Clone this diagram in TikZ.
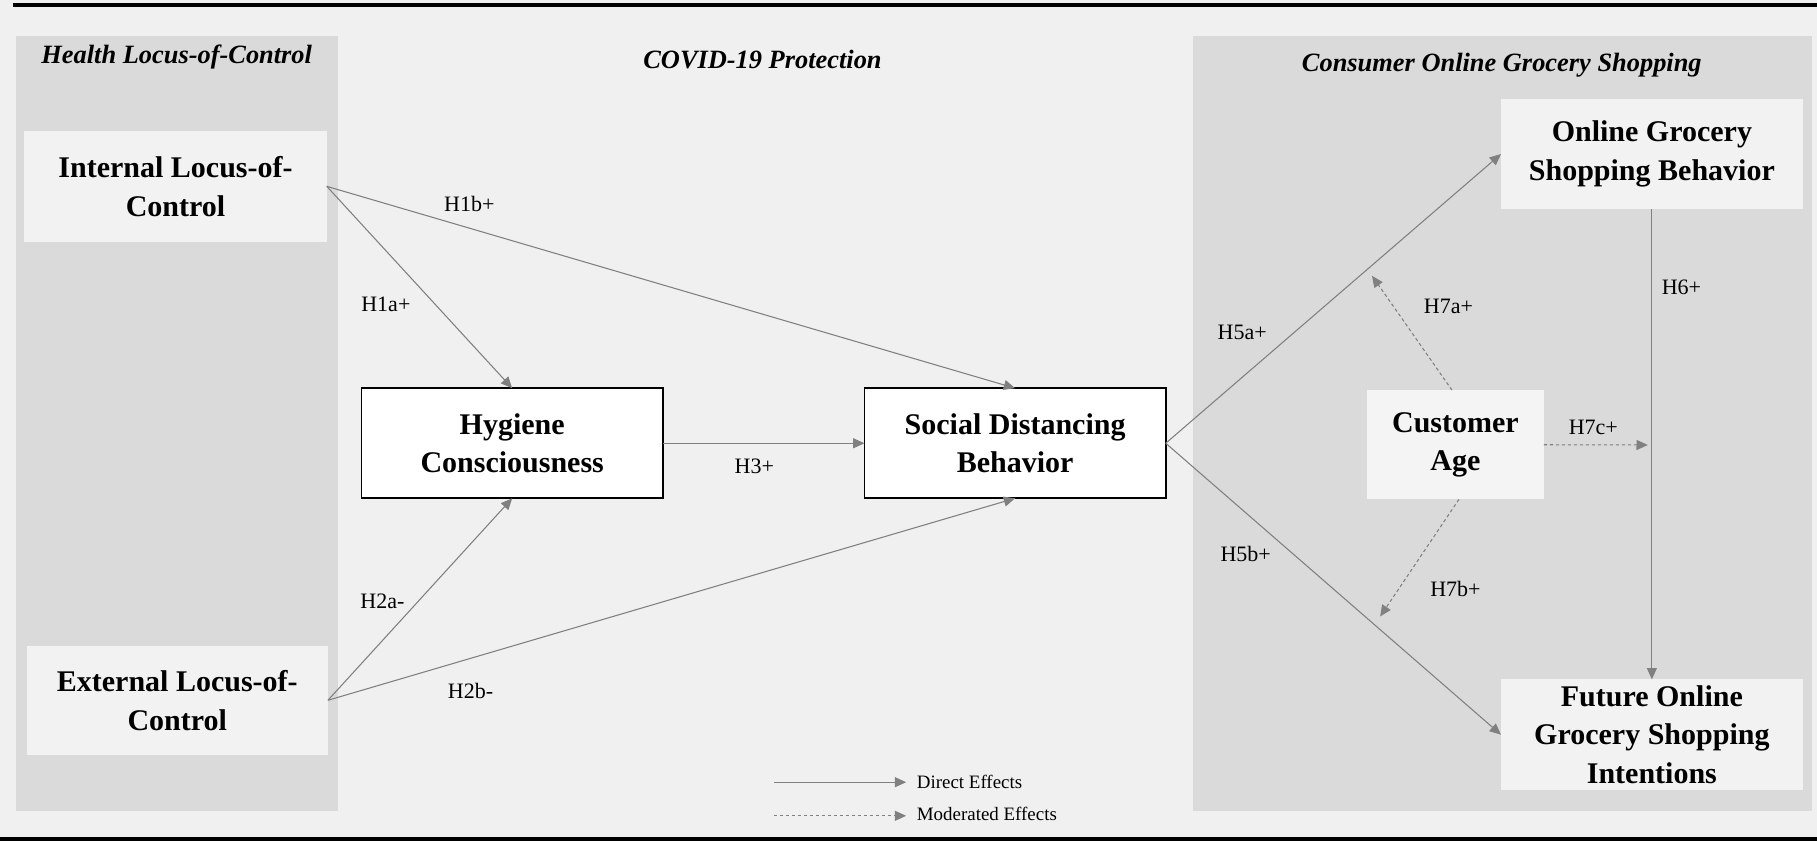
\documentclass[tikz,border=0pt]{standalone}
\usepackage{fontspec}
\setmainfont{Liberation Serif}
\usetikzlibrary{arrows.meta}
\newdimen\uu \uu=0.8691pt
\definecolor{bgc}{HTML}{F0F0F0}
\definecolor{panelc}{HTML}{DADADA}
\definecolor{boxc}{HTML}{F2F2F2}
\definecolor{agec}{HTML}{F4F4F4}
\definecolor{arrc}{HTML}{808080}
\tikzset{
  panel/.style={fill=panelc, draw=none},
  lbox/.style={fill=boxc, draw=none, inner sep=0pt, outer sep=0pt, align=center,
    font=\fontsize{22.5}{29}\selectfont\bfseries},
  wbox/.style={fill=white, draw=black, line width=1.3pt, inner sep=0pt, outer sep=0pt, align=center,
    font=\fontsize{22.5}{29}\selectfont\bfseries},
  ttl/.style={font=\fontsize{19.8}{23}\selectfont\bfseries\itshape, inner sep=0pt},
  hlab/.style={font=\fontsize{16.5}{19}\selectfont, inner sep=0pt},
  leglab/.style={font=\fontsize{14.2}{17}\selectfont, inner sep=0pt, anchor=west},
  direct/.style={draw=arrc, line width=0.8pt, -{Triangle[length=8.5pt,width=7.5pt]}},
  moder/.style={draw=arrc, line width=0.8pt, dash pattern=on 2.5pt off 2pt, -{Triangle[length=8.5pt,width=7.5pt]}},
}
\begin{document}
\begin{tikzpicture}[x=\uu, y=-\uu]
\useasboundingbox (0,0) rectangle (1568,726);
% background
\fill[bgc] (0,0) rectangle (1568,726);
\draw[line width=3pt, black] (11,4.6) -- (1568,4.6);
\draw[line width=3pt, black] (0,724.3) -- (1568,724.3);
% panels
\path[panel] (13.5,31) rectangle (292,699.6);
\path[panel] (1029.5,31) rectangle (1563.5,699.6);
% titles
\node[ttl] (htitle) at (152.5,49.5) {Health Locus-of-Control};
\node[ttl] (ctitle) at (658,51.5) {COVID-19 Protection};
\node[ttl] (otitle) at (1296,56) {Consumer Online Grocery Shopping};
% nodes
\node[lbox, minimum width=261\uu, minimum height=95.6\uu] (intl) at (151.5,160.8) {Internal Locus-of-\\Control};
\node[lbox, minimum width=260\uu, minimum height=94.5\uu] (extl) at (153,604.3) {External Locus-of-\\Control};
\node[wbox, minimum width=260\uu, minimum height=95\uu] (hyg) at (442,382.5) {Hygiene\\Consciousness};
\node[wbox, minimum width=260\uu, minimum height=95\uu] (soc) at (876,382.5) {Social Distancing\\Behavior};
\node[lbox, minimum width=260.4\uu, minimum height=95\uu] (ogsb) at (1425.5,132.9) {Online Grocery\\Shopping Behavior};
\node[lbox, minimum width=260.4\uu, minimum height=95.5\uu] (fut) at (1425.5,634) {Future Online\\Grocery Shopping\\Intentions};
\node[lbox, fill=agec, minimum width=152.5\uu, minimum height=94.3\uu] (age) at (1256,383.8) {Customer\\Age};
% direct effects
\draw[direct] (intl.east) -- (hyg.north);
\draw[direct] (intl.east) -- (soc.north);
\draw[direct] (extl.east) -- (hyg.south);
\draw[direct] (extl.east) -- (soc.south);
\draw[direct] (hyg) -- (soc);
\draw[direct] (soc.east) -- (ogsb.west);
\draw[direct] (soc.east) -- (fut.west);
\draw[direct] (ogsb) -- (fut);
% moderated effects
\coordinate (m7a) at (1184,238);
\coordinate (m7b) at (1191,532);
\coordinate (m7c) at (1422,384);
\draw[moder] ([xshift=-3\uu]age.north) -- (m7a);
\draw[moder] ([xshift=3\uu]age.south) -- (m7b);
\draw[moder] (age.east) -- (m7c);
% labels
\node[hlab] (l1b) at (405,176) {H1b+};
\node[hlab] (l1a) at (333,263) {H1a+};
\node[hlab] (l2a) at (330,519) {H2a-};
\node[hlab] (l2b) at (406,596) {H2b-};
\node[hlab] (l3) at (651,402) {H3+};
\node[hlab] (l5a) at (1072,287) {H5a+};
\node[hlab] (l5b) at (1075,478) {H5b+};
\node[hlab] (l6) at (1451,248) {H6+};
\node[hlab] (l7a) at (1250,264) {H7a+};
\node[hlab] (l7b) at (1256,508) {H7b+};
\node[hlab] (l7c) at (1375,369) {H7c+};
% legend
\coordinate (ld1) at (668,675);
\coordinate (ld2) at (782,675);
\coordinate (lm1) at (668,704);
\coordinate (lm2) at (782,704);
\draw[direct] (ld1) -- (ld2);
\draw[moder] (lm1) -- (lm2);
\node[leglab] (ldir) at (791,675) {Direct Effects};
\node[leglab] (lmod) at (791,702) {Moderated Effects};
\end{tikzpicture}
\end{document}
